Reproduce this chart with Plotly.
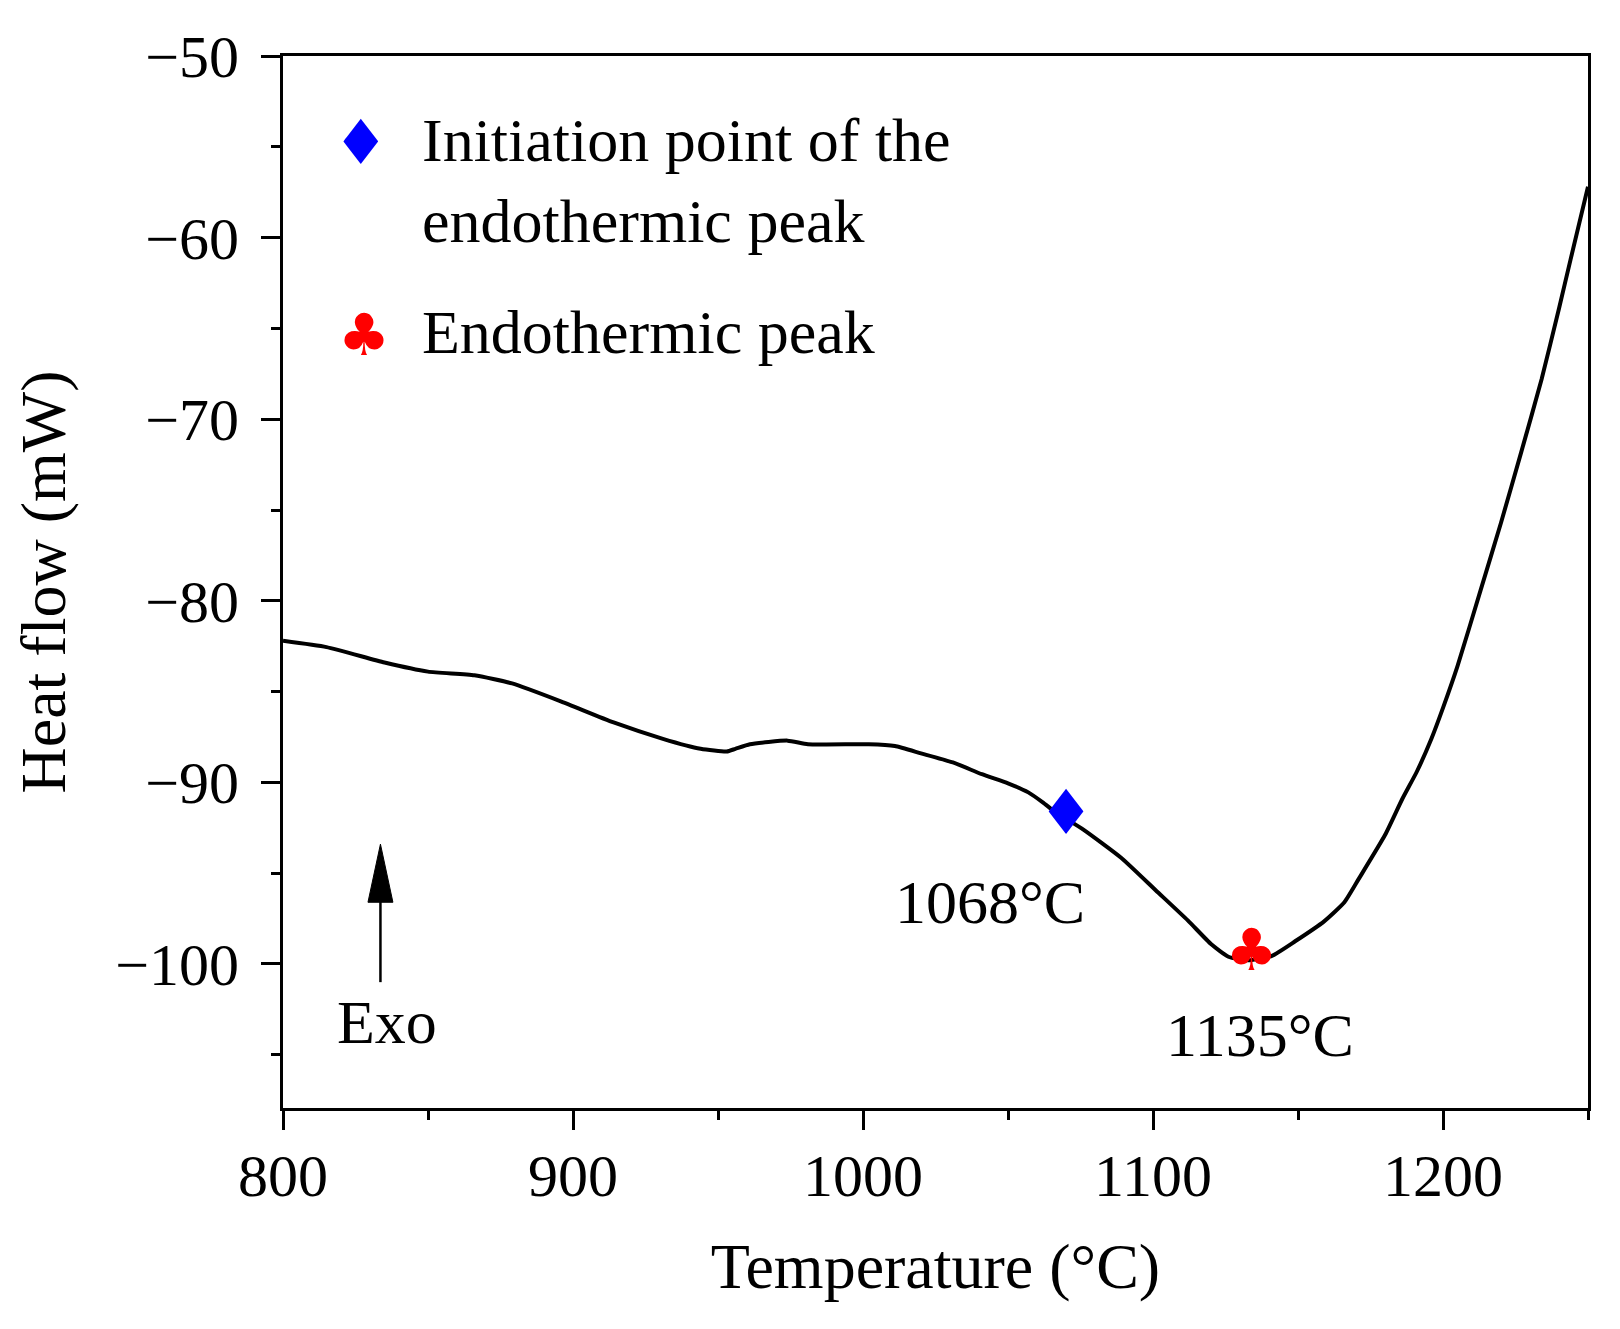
import plotly.graph_objects as go

# ---- data ----
temperature = [800, 815, 835, 850, 866, 879, 896, 914, 931, 944, 953, 956, 961, 974, 981,
               1002, 1011, 1020, 1031, 1041, 1050, 1057, 1062, 1066, 1070, 1076, 1089, 1101,
               1112, 1120, 1126, 1133, 1141, 1149, 1159, 1166, 1171, 1180, 1186, 1191, 1196,
               1200, 1205, 1213, 1220, 1227, 1234, 1240, 1244, 1250]
heat_flow = [-82.2, -82.55, -83.4, -83.9, -84.1, -84.55, -85.55, -86.7, -87.6, -88.15, -88.3,
             -88.15, -87.9, -87.7, -87.9, -87.9, -88.0, -88.4, -88.9, -89.55, -90.05, -90.55,
             -91.1, -91.6, -92.0, -92.6, -94.15, -95.95, -97.6, -98.9, -99.6, -99.8, -99.55,
             -98.75, -97.65, -96.6, -95.3, -92.9, -90.9, -89.4, -87.6, -85.9, -83.6, -79.4,
             -75.7, -71.8, -67.8, -63.9, -61.2, -57.2]

initiation_T = [1070]
initiation_HF = [-92.0]
peak_T = [1134]
peak_HF = [-99.55]

initiation_label = "1068°C"
peak_label = "1135°C"
legend_labels = ["Initiation point of the<br>endothermic peak", "Endothermic peak"]

x_ticks = [800, 900, 1000, 1100, 1200]
y_ticks = [-50, -60, -70, -80, -90, -100]

# Exo arrow (data coordinates)
exo_x = 833.6
exo_tail = -101.0
exo_tip = -93.4
exo_head_base = -96.6
exo_head_half = 4.3

SERIF = "Liberation Serif, Times New Roman, serif"
SYM = "DejaVu Sans"

fig = go.Figure()

fig.add_trace(go.Scatter(
    x=temperature, y=heat_flow, mode="lines",
    line=dict(color="black", width=4, shape="spline", smoothing=0.5),
    showlegend=False, hoverinfo="skip"))

fig.add_trace(go.Scatter(
    x=initiation_T, y=initiation_HF, mode="text", text=["♦"],
    textfont=dict(family=SYM, size=62, color="#0000ff"),
    textposition="middle center", showlegend=False))

fig.add_trace(go.Scatter(
    x=peak_T, y=peak_HF, mode="text", text=["♣"],
    textfont=dict(family=SYM, size=58, color="#ff0000"),
    textposition="middle center", showlegend=False))

annotations = [
    dict(x=1043.8, y=-96.6, xref="x", yref="y", text=initiation_label, showarrow=False,
         font=dict(family=SERIF, size=62, color="black"), xanchor="center", yanchor="middle"),
    dict(x=1136.8, y=-103.9, xref="x", yref="y", text=peak_label, showarrow=False,
         font=dict(family=SERIF, size=62, color="black"), xanchor="center", yanchor="middle"),
    dict(x=836, y=-103.2, xref="x", yref="y", text="Exo", showarrow=False,
         font=dict(family=SERIF, size=62, color="black"), xanchor="center", yanchor="middle"),
    # legend
    dict(x=0.0595, y=0.918, xref="paper", yref="paper", text="♦", showarrow=False,
         font=dict(family=SYM, size=62, color="#0000ff"), xanchor="center", yanchor="middle"),
    dict(x=0.1048, y=0.882, xref="paper", yref="paper", text=legend_labels[0], showarrow=False,
         align="left", font=dict(family=SERIF, size=62, color="black"),
         xanchor="left", yanchor="middle"),
    dict(x=0.062, y=0.735, xref="paper", yref="paper", text="♣", showarrow=False,
         font=dict(family=SYM, size=58, color="#ff0000"), xanchor="center", yanchor="middle"),
    dict(x=0.1048, y=0.738, xref="paper", yref="paper", text=legend_labels[1], showarrow=False,
         align="left", font=dict(family=SERIF, size=62, color="black"),
         xanchor="left", yanchor="middle"),
]

shapes = [
    dict(type="line", xref="x", yref="y", x0=exo_x, x1=exo_x, y0=exo_tail, y1=exo_head_base + 0.3,
         line=dict(color="black", width=2.5)),
    dict(type="path", xref="x", yref="y",
         path=f"M {exo_x - exo_head_half},{exo_head_base} L {exo_x + exo_head_half},{exo_head_base} "
              f"L {exo_x},{exo_tip} Z",
         fillcolor="black", line=dict(color="black", width=1)),
]

fig.update_layout(
    width=1620, height=1329,
    margin=dict(l=275, r=40, t=48, b=229),
    paper_bgcolor="white", plot_bgcolor="white",
    annotations=annotations, shapes=shapes,
    font=dict(family=SERIF, color="black"),
)

fig.update_xaxes(
    range=[800, 1250], tickvals=x_ticks, ticktext=[str(v) for v in x_ticks],
    ticks="outside", ticklen=19, tickwidth=2.5, tickcolor="black",
    minor=dict(dtick=50, tick0=800, ticks="outside", ticklen=9, tickwidth=2.5, tickcolor="black", showgrid=False),
    showline=True, linecolor="black", linewidth=3, mirror=True,
    showgrid=False, zeroline=False, ticklabelstandoff=-6,
    tickfont=dict(family=SERIF, size=60, color="black"),
    title=dict(text="Temperature (°C)", font=dict(family=SERIF, size=64, color="black"), standoff=36),
)
fig.update_yaxes(
    range=[-107.93, -50], tickvals=y_ticks, ticktext=["−" + str(abs(v)) for v in y_ticks],
    ticks="outside", ticklen=19, tickwidth=2.5, tickcolor="black",
    minor=dict(dtick=5, tick0=-50, ticks="outside", ticklen=9, tickwidth=2.5, tickcolor="black", showgrid=False),
    showline=True, linecolor="black", linewidth=3, mirror=True,
    showgrid=False, zeroline=False, ticklabelstandoff=10,
    tickfont=dict(family=SERIF, size=60, color="black"),
    title=dict(text="Heat flow (mW)", font=dict(family=SERIF, size=64, color="black"), standoff=32),
)

fig.write_html("out.html")
